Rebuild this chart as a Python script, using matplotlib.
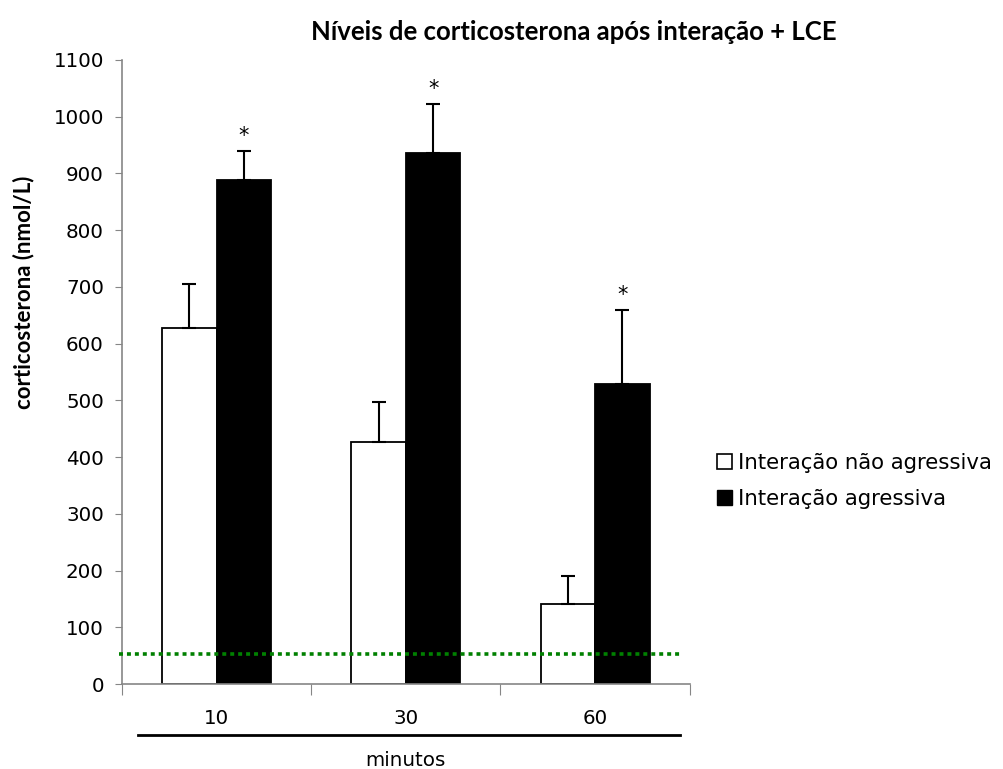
import matplotlib.pyplot as plt
import numpy as np
from matplotlib.lines import Line2D
from matplotlib.patches import Patch

plt.rcParams['font.family'] = ['DejaVu Sans']

# dados
minutos = ['10', '30', '60']
nao_agressiva = [627, 426, 141]
erro_nao_agressiva = [78, 71, 49]
agressiva = [888, 936, 529]
erro_agressiva = [52, 87, 131]
limite_deteccao = 53

fig = plt.figure(figsize=(10.04, 7.69), dpi=100)
ax = fig.add_axes([0.1215, 0.1105, 0.5655, 0.8115])

x = np.arange(len(minutos))
w = 0.288
ax.bar(x - w / 2, nao_agressiva, w, color='white', edgecolor='black', linewidth=1.3,
       yerr=[np.zeros(3), erro_nao_agressiva], capsize=5,
       error_kw=dict(elinewidth=1.5, capthick=1.5, ecolor='black'))
ax.bar(x + w / 2, agressiva, w, color='black', edgecolor='black', linewidth=1.3,
       yerr=[np.zeros(3), erro_agressiva], capsize=5,
       error_kw=dict(elinewidth=1.5, capthick=1.5, ecolor='black'))

# asteriscos de significância
for xi, v, e in zip(x, agressiva, erro_agressiva):
    ax.text(xi + w / 2, v + e + 8, '*', ha='center', va='bottom', fontsize=15)

ax.axhline(limite_deteccao, color='#008000', linestyle=(0, (1.1, 1.1)), linewidth=2.6,
           xmin=-0.005, xmax=0.985, clip_on=False, zorder=5)

ax.set_xlim(-0.5, 2.5)
ax.set_ylim(0, 1100)
ax.set_yticks(range(0, 1101, 100))
ax.tick_params(axis='y', labelsize=14.3, length=5, color='#868686', pad=8)

ax.set_xticks([-0.5, 0.5, 1.5, 2.5])
ax.set_xticklabels([])
ax.tick_params(axis='x', which='major', length=8, color='#868686')
ax.set_xticks(x, minor=True)
ax.set_xticklabels(minutos, minor=True)
ax.tick_params(axis='x', which='minor', length=0, labelsize=14.3, pad=18)

for s in ['top', 'right']:
    ax.spines[s].set_visible(False)
for s in ['left', 'bottom']:
    ax.spines[s].set_color('#868686')
    ax.spines[s].set_linewidth(1.2)

# linha sob os rótulos e título do eixo x
fig.add_artist(Line2D([138 / 1004, 680 / 1004], [1 - 735 / 769] * 2,
                      color='black', linewidth=2))
fig.text(405 / 1004, 1 - 760 / 769, 'minutos', ha='center', va='center', fontsize=14.3)

fig.text(24 / 1004, 1 - 292 / 769, 'corticosterona (nmol/L)', rotation=90,
         ha='center', va='center', fontsize=16, fontweight='bold', family='Lato')
fig.text(574 / 1004, 1 - 32 / 769, 'Níveis de corticosterona após interação + LCE',
         ha='center', va='center', fontsize=18.5, fontweight='bold', family='Lato')

handles = [Patch(facecolor='white', edgecolor='black', linewidth=1.2),
           Patch(facecolor='black', edgecolor='black')]
fig.legend(handles, ['Interação não agressiva', 'Interação agressiva'],
           loc='center left', bbox_to_anchor=(698 / 1004, 1 - 481 / 769),
           frameon=False, fontsize=15.3, handlelength=0.7, handleheight=0.7,
           handletextpad=0.3, labelspacing=0.75)

fig.savefig('out.png', dpi=100)
